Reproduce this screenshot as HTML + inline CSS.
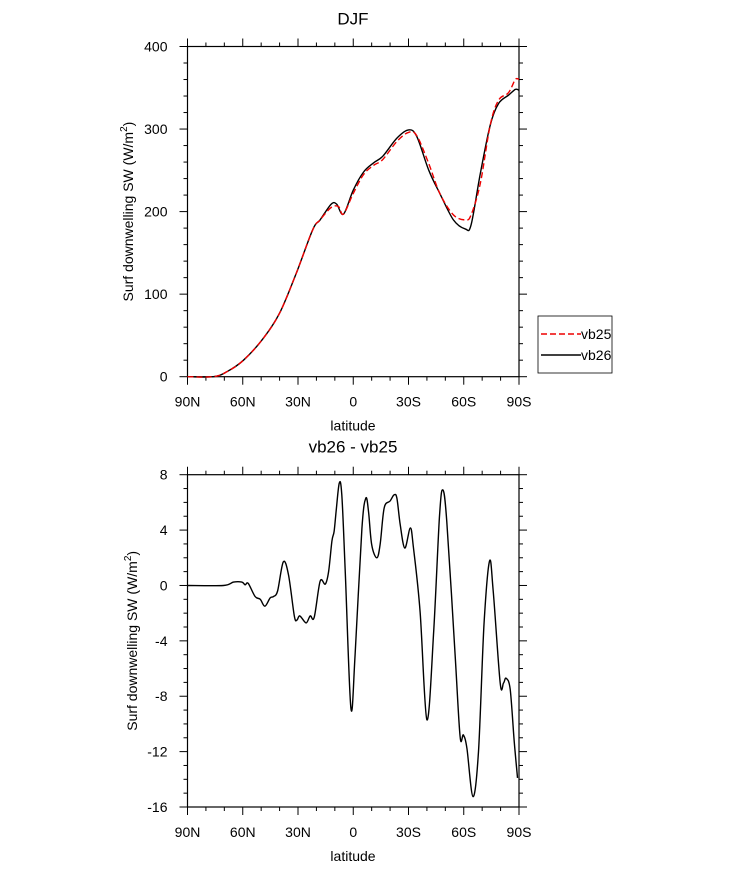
<!DOCTYPE html>
<html><head><meta charset="utf-8"><style>
body{margin:0;background:#fff;}
svg text{font-family:"Liberation Sans",sans-serif;}
</style></head><body>
<svg id="c" width="733" height="865"></svg>
<script>
const lats=[0,14,21.4,30.4,41,50,59,68,72,78,81,84.7,90,95.6,101,106,113.7,120,124.5,131,137,144.4,150.8,154,159,164.4,168.9,174.3,178,180];
const vb26=[0,0,6,20,46,77,125,178,190,209,209,197,226,248,259,267,289,299,291,250,222,190,179,184,246,305,331,341,348,347];
const vb25Lats=[0,14,21.4,30.4,41,50,59,68,72,78,82,84.7,90,95.6,101,106,113.7,120,124.5,131,137,144.4,150.8,154,159,164.4,168.9,174.3,178,180];
const vb25=[0,0,6,20,46,77,125,178,190,205,206,197,222,245,256,263,285,296,292,258,222,196,190,196,234,305,335,344,360,360];
const diffLats=[0,19.5,25,29.5,31.3,33,36.7,39.5,42,44.9,46.7,48.9,52,54.8,58,59.4,61,64.4,66.6,68.8,72,74.8,76.6,78.4,79.6,80.7,82.4,83.8,85.6,88.7,91,94.7,96.8,98.3,100,102.8,104.6,106.8,110,112.2,113.7,115.5,118,121,122.7,126.3,130,133.6,136.8,138.6,140.8,145.3,148,149.8,151.7,155,158,161,164,166,169.8,171.6,173,175.2,177.4,179.2];
const diff=[0,0,0.24,0.24,0.05,0.15,-0.8,-1.0,-1.5,-0.9,-0.8,-0.4,1.7,0.8,-2.2,-2.5,-2.2,-2.7,-2.2,-2.3,0.3,0.1,1.0,3.2,3.9,5.35,7.4,6.55,1.25,-8.85,-5,4.1,6.3,5.35,2.95,2.0,2.95,5.6,6.1,6.55,6.3,4.4,2.7,4.15,2.7,-1.9,-9.7,-3.55,4.9,6.9,4.6,-5,-10.9,-10.8,-11.75,-15.25,-12,-2.8,1.75,-0.4,-7.05,-7.05,-6.7,-7.5,-11.25,-13.9];
const xLabels=["90N","60N","30N","0","30S","60S","90S"];
const topYTicks=[0,100,200,300,400];
const botYTicks=[-16,-12,-8,-4,0,4,8];

const svg=document.getElementById('c');
const NS='http://www.w3.org/2000/svg';
function mk(tag,attrs,name){const e=document.createElementNS(NS,tag);for(const k in attrs)e.setAttribute(k,attrs[k]);


svg.appendChild(e);return e;}
const X0=187.5,X1=519;
const xs=d=>X0+(X1-X0)*d/180;

function panel(pfx,T,B,ymin,ymax,yt,minorStep,title){
  const ys=v=>B-(B-T)*(v-ymin)/(ymax-ymin);
  mk('rect',{x:X0,y:T,width:X1-X0,height:B-T,fill:'none',stroke:'#000','stroke-width':1.2},pfx+'-frame');
  for(let d=0;d<=180;d+=10){const maj=d%30===0,L=maj?8:4;const x=xs(d);
    mk('line',{x1:x,x2:x,y1:B,y2:B+L,stroke:'#000'},pfx+'-x-tick');
    mk('line',{x1:x,x2:x,y1:T,y2:T-L,stroke:'#000'},pfx+'-x-tick-top');}
  xLabels.forEach((l,i)=>{const t=mk('text',{x:xs(i*30),y:B+30,'text-anchor':'middle','font-size':14},pfx+'-x-label');t.textContent=l;});
  for(let v=ymin;v<=ymax+1e-9;v+=minorStep){const maj=yt.includes(Math.round(v));const L=maj?8:4;const y=ys(v);
    mk('line',{x1:X0,x2:X0-L,y1:y,y2:y,stroke:'#000'},pfx+'-y-tick');
    mk('line',{x1:X1,x2:X1+L,y1:y,y2:y,stroke:'#000'},pfx+'-y-tick-right');}
  yt.forEach(v=>{const t=mk('text',{x:X0-20,y:ys(v)+5,'text-anchor':'end','font-size':14},pfx+'-y-label');t.textContent=v;});
  const xt=mk('text',{x:353,y:B+54,'text-anchor':'middle','font-size':14},pfx+'-x-title');xt.textContent='latitude';
  const yl=mk('text',{x:0,y:0,'text-anchor':'middle','font-size':14,transform:`translate(${pfx==='top'?133:137},${(T+B)/2}) rotate(-90)`},pfx+'-y-title');
  yl.innerHTML='Surf downwelling SW (W/m<tspan dy="-6" font-size="10">2</tspan><tspan dy="6">)</tspan>';
  const tt=mk('text',{x:353,y:T-22,'text-anchor':'middle','font-size':17},pfx+'-title');tt.textContent=title;
  return ys;
}
const ysT=panel('top',46.5,376.7,0,400,topYTicks,20,'DJF');
const ysB=panel('bottom',474.7,807,-16,8,botYTicks,1,'vb26 - vb25');
function smooth(la,va,ys){
  const p=la.map((d,i)=>[xs(d),ys(va[i])]);
  let s='M'+p[0][0].toFixed(1)+','+p[0][1].toFixed(1);
  for(let i=0;i<p.length-1;i++){
    const p0=p[Math.max(i-1,0)],p1=p[i],p2=p[i+1],p3=p[Math.min(i+2,p.length-1)];
    const c1=[p1[0]+(p2[0]-p0[0])/6,p1[1]+(p2[1]-p0[1])/6];
    const c2=[p2[0]-(p3[0]-p1[0])/6,p2[1]-(p3[1]-p1[1])/6];
    s+=` C${c1[0].toFixed(1)},${c1[1].toFixed(1)} ${c2[0].toFixed(1)},${c2[1].toFixed(1)} ${p2[0].toFixed(1)},${p2[1].toFixed(1)}`;
  }
  return s;
}
mk('path',{d:smooth(lats,vb26,ysT),fill:'none',stroke:'#000','stroke-width':1.4},'vb26-line');
mk('path',{d:smooth(vb25Lats,vb25,ysT),fill:'none',stroke:'#e00','stroke-width':1.4,'stroke-dasharray':'6,3'},'vb25-line');
mk('path',{d:smooth(diffLats,diff,ysB),fill:'none',stroke:'#000','stroke-width':1.4},'diff-line');
mk('rect',{x:538,y:316,width:74,height:57,fill:'#fff',stroke:'#000','stroke-width':0.8},'legend-box');
mk('line',{x1:541,x2:581,y1:334,y2:334,stroke:'#e00','stroke-width':1.4,'stroke-dasharray':'6,3'},'legend-vb25-line');
mk('line',{x1:541,x2:581,y1:355,y2:355,stroke:'#000','stroke-width':1.4},'legend-vb26-line');
const l1=mk('text',{x:581,y:339,'font-size':14},'legend-vb25-label');l1.textContent='vb25';
const l2=mk('text',{x:581,y:360,'font-size':14},'legend-vb26-label');l2.textContent='vb26';
</script>
</body></html>
